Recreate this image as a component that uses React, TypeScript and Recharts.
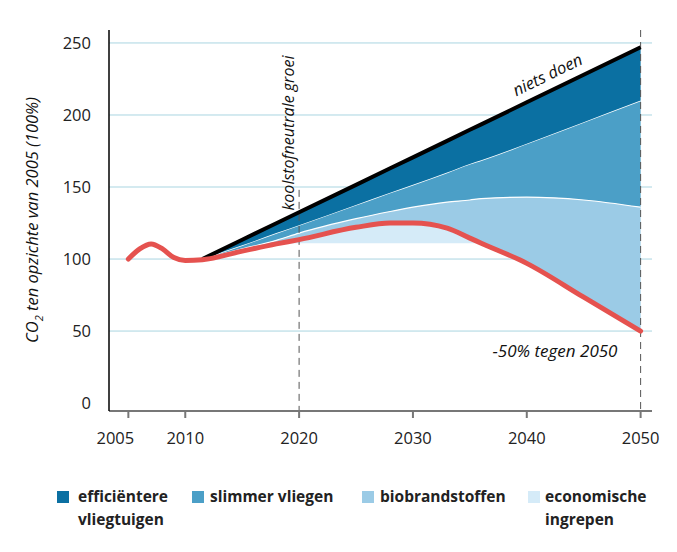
import React from 'react';
import { ComposedChart, Area, Line, XAxis, YAxis, CartesianGrid, ReferenceLine } from 'recharts';

// years on the x axis (2011.5 = start of the scenarios)
const years = [2005, 2006, 2007, 2008, 2009, 2010, 2011.5, 2015, 2018, 2020, 2025, 2028, 2030, 2033, 2035, 2036, 2040, 2045, 2050];
// red target line (-50% by 2050)
const doel = [100, 107, 110.5, 107, 101, 99, 99.5, 105.5, 110.5, 113.5, 122, 125, 125, 121.5, 114.5, 111, 97, 73.5, 50];
// black "niets doen" line
const nietsDoen = [null, null, null, null, null, null, 100, 113.4, 124.8, 132.5, 151.5, 163, 170.6, 182, 189.7, 193.5, 208.8, 227.9, 247];
// upper edge of "slimmer vliegen"
const slimmerTop = [null, null, null, null, null, null, 100, 109.5, 118, 123.5, 137.5, 146, 151.5, 160, 166, 168.5, 180, 195, 210];
// upper edge of "biobrandstoffen"
const bioTop = [null, null, null, null, null, null, 100, 107, 113, 118, 128, 133, 136, 139.5, 141, 142, 143, 141, 136];
// lower edge of "economische ingrepen"
const ecoBodem = [null, null, null, null, null, null, null, null, 110.5, 111, 111, 111, 111, 111, 111, 111, null, null, null];

const yTicks = [0, 50, 100, 150, 200, 250];
const xTicks = [2005, 2010, 2020, 2030, 2040, 2050];

const legend = [
  { label: 'efficiëntere\nvliegtuigen', color: '#0b70a2', x: 49, textX: 70 },
  { label: 'slimmer vliegen', color: '#4b9fc7', x: 184, textX: 202 },
  { label: 'biobrandstoffen', color: '#9bcbe6', x: 354, textX: 372 },
  { label: 'economische\ningrepen', color: '#d5ebf8', x: 520, textX: 537 },
];

const data = years.map((year, i) => ({
  year,
  doel: doel[i],
  niets: nietsDoen[i],
  eff: nietsDoen[i] != null ? [slimmerTop[i], nietsDoen[i]] : null,
  slim: slimmerTop[i] != null ? [bioTop[i], slimmerTop[i]] : null,
  bio: bioTop[i] != null ? [doel[i], bioTop[i]] : null,
  eco: ecoBodem[i] != null ? [ecoBodem[i], doel[i]] : null,
}));

const font = '"Open Sans", "Noto Sans", sans-serif';

// first label sits a bit left, under the start of the axis
const YearTick = (props: any) => {
  const { x, y, payload } = props;
  const shift = payload.value === 2005 ? -13 : 0;
  return (
    <text x={x + shift} y={y} dy="0.71em" textAnchor="middle" fill="#222" fontSize={16.5} fontFamily={font}>
      {payload.value}
    </text>
  );
};

export default function App() {
  return (
    <div style={{ position: 'relative', width: 660, height: 536, fontFamily: font }}>
      <ComposedChart width={660} height={440} data={data} margin={{ top: 22, right: 16, bottom: 0, left: 0 }}>
        <CartesianGrid vertical={false} horizontalValues={[50, 100, 150, 200, 250]} stroke="#a9d5e1" strokeWidth={1} />
        <XAxis
          dataKey="year"
          type="number"
          domain={[2003.3, 2051]}
          ticks={xTicks}
          allowDataOverflow
          height={37}
          stroke="#777"
          strokeWidth={2}
          tickSize={7}
          tickMargin={14}
          tick={<YearTick />}
        />
        <YAxis
          type="number"
          domain={[-5.5, 259]}
          ticks={yTicks}
          allowDataOverflow
          width={101}
          stroke="#000"
          strokeWidth={1.5}
          tickLine={false}
          tickMargin={12}
          tick={{ fill: '#222', fontSize: 16.5, fontFamily: font }}
        />
        <Area dataKey="eco" type="monotone" fill="#d5ebf8" fillOpacity={1} stroke="none" isAnimationActive={false} />
        <Area dataKey="bio" type="monotone" fill="#9bcbe6" fillOpacity={1} stroke="none" isAnimationActive={false} />
        <Area dataKey="slim" type="monotone" fill="#4b9fc7" fillOpacity={1} stroke="#fff" strokeWidth={1.2} isAnimationActive={false} />
        <Area dataKey="eff" type="monotone" fill="#0b70a2" fillOpacity={1} stroke="none" isAnimationActive={false} />
        <ReferenceLine segment={[{ x: 2020, y: 148 }, { x: 2020, y: -5.5 }]} stroke="#555" strokeDasharray="7 5" />
        <ReferenceLine segment={[{ x: 2050, y: 259 }, { x: 2050, y: -5.5 }]} stroke="#555" strokeDasharray="7 5" />
        <Line dataKey="niets" type="linear" stroke="#000" strokeWidth={4} dot={false} isAnimationActive={false} />
        <Line dataKey="doel" type="monotone" stroke="#e5524f" strokeWidth={5} dot={false} strokeLinecap="round" isAnimationActive={false} />
      </ComposedChart>

      <svg width={660} height={440} style={{ position: 'absolute', left: 0, top: 0, pointerEvents: 'none' }}>
        <text transform="translate(30,212) rotate(-90)" textAnchor="middle" fontStyle="italic" fontSize={16.5} fill="#111" fontFamily={font}>
          CO<tspan dy={5} fontSize={11}>2</tspan><tspan dy={-5}> ten opzichte van 2005 (100%)</tspan>
        </text>
        <text transform="translate(286,125) rotate(-90)" textAnchor="middle" fontStyle="italic" fontSize={16} fill="#111" fontFamily={font}>
          koolstofneutrale groei
        </text>
        <text transform="translate(542,72) rotate(-26)" textAnchor="middle" fontStyle="italic" fontSize={16.5} fill="#111" fontFamily={font}>
          niets doen
        </text>
        <text x={547} y={349} textAnchor="middle" fontStyle="italic" fontSize={17} fill="#111" fontFamily={font}>
          -50% tegen 2050
        </text>
      </svg>

      {legend.map((item) => (
        <React.Fragment key={item.label}>
          <div style={{ position: 'absolute', left: item.x, top: 483, width: 12, height: 12, background: item.color }} />
          <div style={{ position: 'absolute', left: item.textX, top: 477, whiteSpace: 'pre-line', fontSize: 15.5, fontWeight: 700, lineHeight: '23px', color: '#222' }}>
            {item.label}
          </div>
        </React.Fragment>
      ))}
    </div>
  );
}
